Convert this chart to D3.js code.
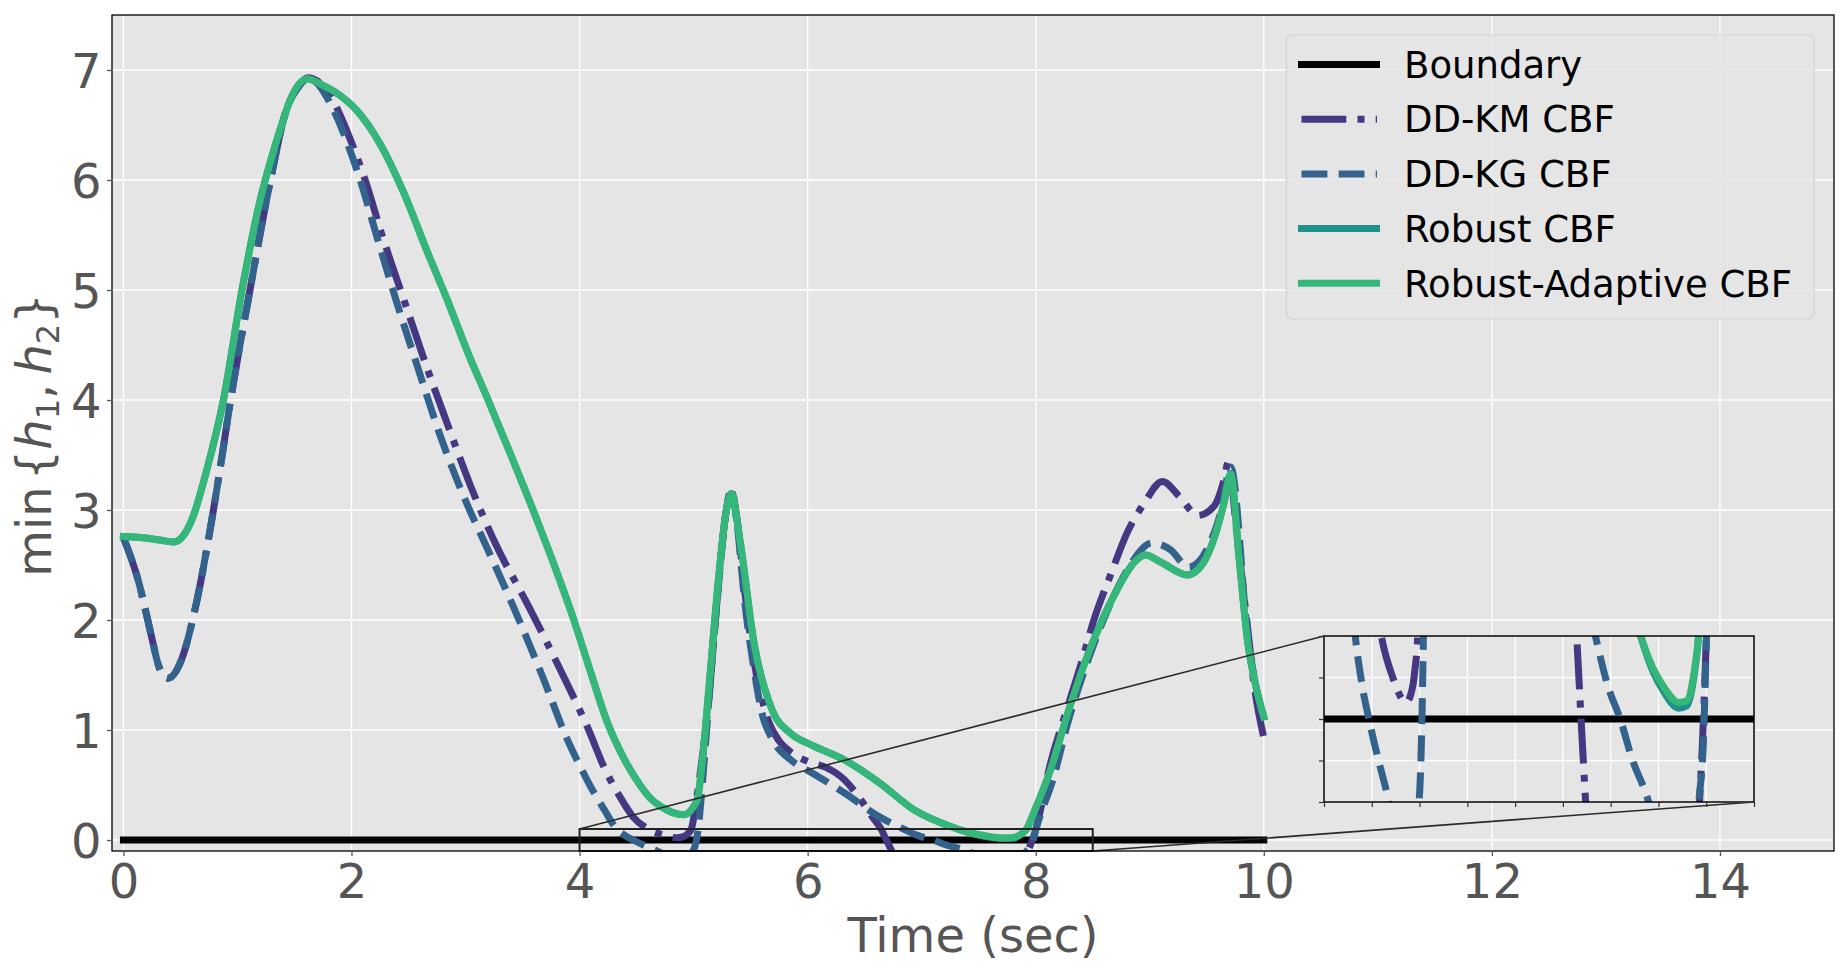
<!DOCTYPE html>
<html>
<head>
<meta charset="utf-8">
<script src="https://cdn.jsdelivr.net/npm/d3@7"></script>
<style>
  html, body { margin: 0; padding: 0; background: #ffffff; }
  svg { display: block; font-family: "DejaVu Sans", sans-serif; }
</style>
</head>
<body>
<svg id="chart" width="1848" height="977"></svg>
<script>
// ---------------- data ----------------
const xTicks = [0, 2, 4, 6, 8, 10, 12, 14];
const yTicks = [0, 1, 2, 3, 4, 5, 6, 7];
const insetXTicks = [4, 4.5, 5, 5.5, 6, 6.5, 7, 7.5, 8, 8.5];
const insetYTicks = [-0.1, -0.05, 0, 0.05, 0.1];
const seriesNames = ["Boundary", "DD-KM CBF", "DD-KG CBF", "Robust CBF", "Robust-Adaptive CBF"];
const xLabel = "Time (sec)";

const boundaryTime = [0, 10];
const boundaryValue = [0, 0];

const kmTime = [0, 0.13, 0.24, 0.31, 0.39, 0.51, 0.62, 0.775, 0.85, 0.94, 1.11, 1.29, 1.43, 1.53, 1.62, 1.70, 1.80, 1.97, 2.11, 2.28, 2.46, 2.66, 2.87, 3.04, 3.26, 3.55, 3.83, 4.08, 4.22, 4.35, 4.47, 4.60, 4.72, 4.86, 4.93, 4.95, 4.98, 5.03, 5.08, 5.13, 5.22, 5.28, 5.33, 5.38, 5.45, 5.53, 5.60, 5.66, 5.75, 5.85, 6.04, 6.16, 6.32, 6.47, 6.56, 6.646, 6.69, 6.73, 6.80, 7.00, 7.30, 7.60, 7.85, 7.93, 7.96, 8.00, 8.13, 8.28, 8.40, 8.51, 8.66, 8.80, 8.95, 9.11, 9.27, 9.42, 9.56, 9.65, 9.69, 9.76, 9.86, 9.91, 10.0];
const kmValue = [2.75, 2.36, 1.88, 1.58, 1.47, 1.64, 2.06, 2.91, 3.39, 4.00, 5.00, 6.00, 6.64, 6.84, 6.93, 6.90, 6.79, 6.42, 6.03, 5.46, 4.91, 4.30, 3.70, 3.23, 2.70, 2.13, 1.55, 1.00, 0.65, 0.40, 0.21, 0.10, 0.05, 0.02, 0.04, 0.058, 0.10, 0.40, 0.78, 1.25, 2.35, 2.95, 3.18, 2.92, 2.25, 1.62, 1.28, 1.07, 0.90, 0.80, 0.70, 0.66, 0.55, 0.36, 0.22, 0.096, 0.0, -0.084, -0.22, -0.45, -0.55, -0.45, -0.22, -0.10, -0.03, 0.094, 0.70, 1.21, 1.61, 2.00, 2.42, 2.79, 3.06, 3.26, 3.11, 2.95, 3.03, 3.27, 3.44, 2.82, 1.91, 1.45, 0.93];

const kgTime = [0, 0.13, 0.24, 0.31, 0.39, 0.51, 0.62, 0.775, 0.85, 0.94, 1.11, 1.29, 1.43, 1.53, 1.62, 1.70, 1.78, 1.94, 2.07, 2.23, 2.39, 2.58, 2.77, 3.04, 3.16, 3.42, 3.67, 3.89, 4.00, 4.10, 4.22, 4.31, 4.40, 4.47, 4.56, 4.66, 4.76, 4.86, 4.95, 5.00, 5.04, 5.08, 5.13, 5.22, 5.28, 5.33, 5.38, 5.45, 5.53, 5.60, 5.70, 5.85, 6.04, 6.32, 6.63, 6.84, 6.97, 7.10, 7.23, 7.37, 7.50, 7.70, 7.85, 7.93, 7.97, 8.00, 8.16, 8.28, 8.45, 8.63, 8.80, 9.02, 9.18, 9.34, 9.50, 9.62, 9.71, 9.86, 10.0];
const kgValue = [2.75, 2.36, 1.88, 1.58, 1.47, 1.64, 2.06, 2.91, 3.39, 4.00, 5.00, 6.00, 6.64, 6.84, 6.92, 6.88, 6.76, 6.40, 6.02, 5.46, 4.91, 4.30, 3.70, 2.99, 2.72, 2.12, 1.50, 0.92, 0.68, 0.48, 0.27, 0.12, 0.04, 0.0, -0.045, -0.09, -0.14, -0.16, -0.14, -0.09, 0.10, 0.55, 1.22, 2.33, 2.95, 3.18, 2.88, 2.15, 1.55, 1.15, 0.90, 0.73, 0.61, 0.43, 0.21, 0.10, 0.04, 0.0, -0.05, -0.09, -0.14, -0.20, -0.16, -0.09, -0.03, 0.09, 0.58, 1.06, 1.61, 2.09, 2.45, 2.70, 2.64, 2.48, 2.64, 2.97, 3.39, 1.85, 1.08];

const robustTime = [0, 0.15, 0.30, 0.44, 0.52, 0.60, 0.73, 0.877, 1.04, 1.20, 1.29, 1.375, 1.46, 1.61, 1.75, 1.87, 2.04, 2.25, 2.46, 2.66, 2.84, 3.04, 3.19, 3.39, 3.60, 3.77, 3.95, 4.09, 4.24, 4.40, 4.53, 4.62, 4.72, 4.91, 5.03, 5.08, 5.13, 5.22, 5.28, 5.33, 5.41, 5.53, 5.69, 5.85, 6.04, 6.32, 6.63, 6.94, 7.26, 7.44, 7.56, 7.71, 7.80, 7.88, 7.92, 7.98, 8.13, 8.28, 8.43, 8.57, 8.71, 8.86, 8.96, 9.09, 9.33, 9.47, 9.56, 9.65, 9.71, 9.78, 9.86, 9.93, 10.0];
const robustValue = [2.76, 2.75, 2.73, 2.71, 2.76, 2.91, 3.36, 4.00, 5.00, 5.82, 6.17, 6.46, 6.72, 6.92, 6.86, 6.79, 6.64, 6.33, 5.88, 5.36, 4.91, 4.38, 4.02, 3.52, 2.98, 2.52, 2.00, 1.55, 1.08, 0.72, 0.50, 0.38, 0.30, 0.23, 0.36, 0.75, 1.33, 2.39, 2.95, 3.15, 2.70, 1.79, 1.18, 0.97, 0.86, 0.73, 0.52, 0.27, 0.12, 0.058, 0.032, 0.013, 0.016, 0.058, 0.1, 0.24, 0.64, 1.15, 1.61, 1.97, 2.27, 2.52, 2.59, 2.53, 2.41, 2.52, 2.73, 3.06, 3.33, 2.60, 1.79, 1.40, 1.12];

const adaptiveTime = [0, 0.15, 0.30, 0.44, 0.52, 0.60, 0.73, 0.877, 1.04, 1.20, 1.29, 1.375, 1.46, 1.61, 1.75, 1.87, 2.04, 2.25, 2.46, 2.66, 2.84, 3.04, 3.19, 3.39, 3.60, 3.77, 3.95, 4.09, 4.24, 4.40, 4.53, 4.62, 4.72, 4.91, 5.03, 5.08, 5.13, 5.22, 5.28, 5.33, 5.41, 5.53, 5.69, 5.85, 6.04, 6.32, 6.63, 6.94, 7.26, 7.44, 7.56, 7.71, 7.80, 7.88, 7.92, 7.98, 8.13, 8.28, 8.43, 8.57, 8.71, 8.86, 8.96, 9.09, 9.33, 9.47, 9.56, 9.65, 9.71, 9.78, 9.86, 9.93, 10.0];
const adaptiveValue = [2.76, 2.75, 2.73, 2.71, 2.76, 2.91, 3.36, 4.00, 5.00, 5.82, 6.17, 6.46, 6.72, 6.92, 6.86, 6.79, 6.64, 6.33, 5.88, 5.36, 4.91, 4.38, 4.02, 3.52, 2.98, 2.52, 2.00, 1.55, 1.08, 0.72, 0.50, 0.38, 0.30, 0.23, 0.36, 0.75, 1.33, 2.39, 2.95, 3.15, 2.70, 1.79, 1.18, 0.97, 0.86, 0.73, 0.52, 0.27, 0.12, 0.062, 0.038, 0.02, 0.022, 0.062, 0.1, 0.24, 0.64, 1.15, 1.61, 1.97, 2.27, 2.52, 2.59, 2.53, 2.41, 2.52, 2.73, 3.06, 3.33, 2.60, 1.79, 1.40, 1.12];

// ---------------- styles ----------------
const LW = 7;
const seriesStyle = [
  { color: "#000000", dash: null },
  { color: "#453781", dash: [6.4 * LW, 1.6 * LW, 1 * LW, 1.6 * LW] },
  { color: "#33638d", dash: [3.7 * LW, 1.6 * LW] },
  { color: "#21918c", dash: null },
  { color: "#35b779", dash: null }
];
const seriesData = [
  d3.zip(boundaryTime, boundaryValue),
  d3.zip(kmTime, kmValue),
  d3.zip(kgTime, kgValue),
  d3.zip(robustTime, robustValue),
  d3.zip(adaptiveTime, adaptiveValue)
];

// ---------------- layout ----------------
const W = 1848, H = 977;
const plot = { left: 112, right: 1834, top: 15, bottom: 851 };
const insetBox = { left: 1324, right: 1754, top: 636, bottom: 802 };
const TXT = "#555555";
const BG = "#e5e5e5";

const svg = d3.select("#chart");
svg.append("rect").attr("width", W).attr("height", H).attr("fill", "#ffffff");

const x = d3.scaleLinear().domain([-0.1, 15.0]).range([plot.left, plot.right]);
const y = d3.scaleLinear().domain([-0.1, 7.5]).range([plot.bottom, plot.top]);
const xi = d3.scaleLinear().domain([4, 8.5]).range([insetBox.left, insetBox.right]);
const yi = d3.scaleLinear().domain([-0.1, 0.1]).range([insetBox.bottom, insetBox.top]);

const defs = svg.append("defs");
defs.append("clipPath").attr("id", "clipMain").append("rect")
  .attr("x", plot.left).attr("y", plot.top)
  .attr("width", plot.right - plot.left).attr("height", plot.bottom - plot.top);
defs.append("clipPath").attr("id", "clipInset").append("rect")
  .attr("x", insetBox.left).attr("y", insetBox.top)
  .attr("width", insetBox.right - insetBox.left).attr("height", insetBox.bottom - insetBox.top);

function drawPanel(g, xs, ys, box, xt, yt, clipId) {
  g.append("rect").attr("x", box.left).attr("y", box.top)
    .attr("width", box.right - box.left).attr("height", box.bottom - box.top)
    .attr("fill", BG);
  const grid = g.append("g");
  grid.selectAll("line.gx").data(xt).join("line").attr("class", "gx")
    .attr("x1", d => xs(d)).attr("x2", d => xs(d))
    .attr("y1", box.top).attr("y2", box.bottom)
    .attr("stroke", "#ffffff").attr("stroke-width", 1.3);
  grid.selectAll("line.gy").data(yt).join("line").attr("class", "gy")
    .attr("x1", box.left).attr("x2", box.right)
    .attr("y1", d => ys(d)).attr("y2", d => ys(d))
    .attr("stroke", "#ffffff").attr("stroke-width", 1.3);
  const lines = g.append("g").attr("clip-path", `url(#${clipId})`);
  const lineGen = d3.line().x(d => xs(d[0])).y(d => ys(d[1])).curve(d3.curveMonotoneX);
  seriesData.forEach((data, i) => {
    const st = seriesStyle[i];
    lines.append("path")
      .attr("d", lineGen(data))
      .attr("fill", "none")
      .attr("stroke", st.color)
      .attr("stroke-width", LW)
      .attr("stroke-linejoin", "round")
      .attr("stroke-linecap", st.dash ? "butt" : "square")
      .attr("stroke-dasharray", st.dash ? st.dash.join(",") : null);
  });
  return g;
}

// main panel
const mainG = svg.append("g");
drawPanel(mainG, x, y, plot, xTicks, yTicks, "clipMain");

// indicator rectangle and connectors
const ind = svg.append("g");
ind.append("rect")
  .attr("x", x(4)).attr("y", y(0.1))
  .attr("width", x(8.5) - x(4)).attr("height", y(-0.1) - y(0.1))
  .attr("fill", "none").attr("stroke", "#222222").attr("stroke-width", 2);
ind.append("line")
  .attr("x1", x(4)).attr("y1", y(0.1))
  .attr("x2", insetBox.left).attr("y2", insetBox.top)
  .attr("stroke", "#2b2b2b").attr("stroke-width", 1.6);
ind.append("line")
  .attr("x1", x(8.5)).attr("y1", y(-0.1))
  .attr("x2", insetBox.right).attr("y2", insetBox.bottom)
  .attr("stroke", "#2b2b2b").attr("stroke-width", 1.6);

// spines
svg.append("rect").attr("x", plot.left).attr("y", plot.top)
  .attr("width", plot.right - plot.left).attr("height", plot.bottom - plot.top)
  .attr("fill", "none").attr("stroke", "#000000").attr("stroke-width", 1.3);

// axes
const gx = svg.append("g").attr("transform", `translate(0,${plot.bottom})`)
  .call(d3.axisBottom(x).tickValues(xTicks).tickSize(5).tickPadding(8).tickFormat(d3.format("d")));
gx.select(".domain").remove();
gx.attr("font-family", null).attr("font-size", null);
gx.selectAll(".tick line").attr("stroke", TXT).attr("stroke-width", 1.3);
gx.selectAll(".tick text").attr("fill", TXT).attr("font-size", 48).attr("font-family", "DejaVu Sans");

const gy = svg.append("g").attr("transform", `translate(${plot.left},0)`)
  .call(d3.axisLeft(y).tickValues(yTicks).tickSize(5).tickPadding(5.5).tickFormat(d3.format("d")));
gy.select(".domain").remove();
gy.attr("font-family", null).attr("font-size", null);
gy.selectAll(".tick line").attr("stroke", TXT).attr("stroke-width", 1.3);
gy.selectAll(".tick text").attr("fill", TXT).attr("font-size", 48).attr("dy", "0.36em").attr("font-family", "DejaVu Sans");

// axis labels
svg.append("text").attr("x", (plot.left + plot.right) / 2).attr("y", 951.5)
  .attr("text-anchor", "middle").attr("font-size", 48).attr("fill", TXT)
  .text(xLabel);

const yl = svg.append("text").attr("transform", "translate(51,435) rotate(-90)")
  .attr("text-anchor", "middle").attr("font-size", 48).attr("fill", TXT);
yl.append("tspan").text("min");
yl.append("tspan").attr("dx", 6).text("{");
yl.append("tspan").attr("font-style", "italic").text("h");
yl.append("tspan").attr("font-size", 32).attr("dy", 8).text("1");
yl.append("tspan").attr("dy", -8).text(",");
yl.append("tspan").attr("dx", 9).attr("font-style", "italic").text("h");
yl.append("tspan").attr("font-size", 32).attr("dy", 8).text("2");
yl.append("tspan").attr("dy", -8).text("}");

// legend
const lg = svg.append("g");
lg.append("rect").attr("x", 1286.5).attr("y", 35).attr("width", 527.5).attr("height", 284)
  .attr("rx", 6).attr("ry", 6)
  .attr("fill", BG).attr("fill-opacity", 0.8)
  .attr("stroke", "#d2d2d2").attr("stroke-width", 1.2);
seriesNames.forEach((name, i) => {
  const cy = 64.5 + i * 54.7;
  const st = seriesStyle[i];
  lg.append("line")
    .attr("x1", 1301.5).attr("x2", st.dash ? 1377 : 1376.5)
    .attr("y1", cy).attr("y2", cy)
    .attr("stroke", st.color).attr("stroke-width", LW)
    .attr("stroke-linecap", st.dash ? "butt" : "square")
    .attr("stroke-dasharray", st.dash ? st.dash.join(",") : null);
  lg.append("text").attr("x", 1404).attr("y", cy + 13.2)
    .attr("font-size", 37).attr("fill", "#000000").text(name);
});

// inset
const insetG = svg.append("g");
drawPanel(insetG, xi, yi, insetBox, insetXTicks, insetYTicks, "clipInset");
insetG.append("rect").attr("x", insetBox.left).attr("y", insetBox.top)
  .attr("width", insetBox.right - insetBox.left).attr("height", insetBox.bottom - insetBox.top)
  .attr("fill", "none").attr("stroke", "#000000").attr("stroke-width", 1.5);
const gxi = insetG.append("g").attr("transform", `translate(0,${insetBox.bottom})`)
  .call(d3.axisBottom(xi).tickValues(insetXTicks).tickSize(5).tickFormat(""));
gxi.select(".domain").remove();
gxi.selectAll(".tick line").attr("stroke", "#333333").attr("stroke-width", 1.2);
const gyi = insetG.append("g").attr("transform", `translate(${insetBox.left},0)`)
  .call(d3.axisLeft(yi).tickValues(insetYTicks).tickSize(5).tickFormat(""));
gyi.select(".domain").remove();
gyi.selectAll(".tick line").attr("stroke", "#333333").attr("stroke-width", 1.2);
</script>
</body>
</html>
